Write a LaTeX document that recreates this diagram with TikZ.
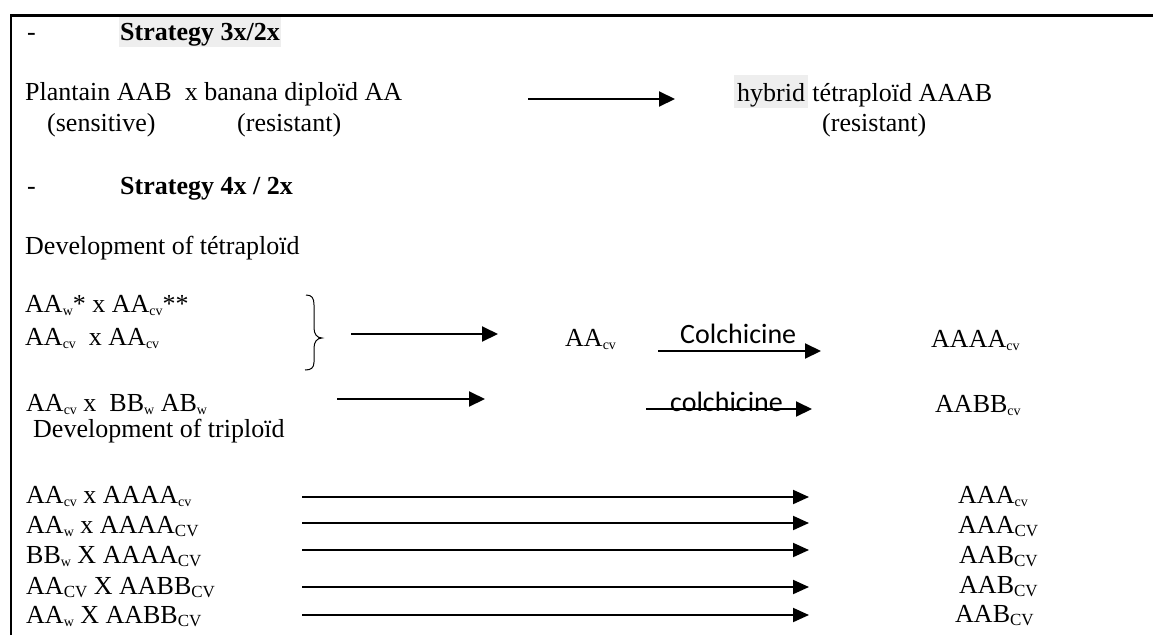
\documentclass[tikz,border=0pt]{standalone}
\usepackage{fontspec}
\setmainfont{Liberation Serif}
\newfontfamily\calibri{Carlito}
\usetikzlibrary{arrows.meta}
\definecolor{hl}{RGB}{238,238,238}
\newcommand{\sbl}[1]{\raisebox{-3.5pt}{\fontsize{14}{14}\selectfont #1}}
\newcommand{\sbu}[1]{\raisebox{-3.5pt}{\fontsize{17}{17}\selectfont #1}}
\begin{document}
\begin{tikzpicture}[x=1pt,y=-1pt,
  txt/.style={anchor=base west, inner sep=0pt, font=\fontsize{26}{30}\selectfont},
  cal/.style={anchor=base west, inner sep=0pt, font=\calibri\fontsize{28}{32}\selectfont},
  arr/.style={line width=2pt, -{Triangle[length=16pt,width=15pt]}},
  arrlong/.style={line width=2pt, -{Triangle[length=16pt,width=14pt]}},
  framel/.style={line width=2.4pt},
  bracel/.style={line width=1pt}]
\useasboundingbox (0,0) rectangle (1153,635);
% frame
\draw[framel] (11,635) -- (11,15.5) -- (1153,15.5);
% section 1
\node[txt] (d1) at (27,40) {-};
\node[txt, fill=hl, text height=23.5pt, text depth=7pt, inner xsep=1pt] (s1) at (119,40) {\textbf{Strategy 3x/2x}};
\node[txt] (p1) at (25,100) {Plantain AAB\ \ x banana diploïd AA};
\node[txt] (sen) at (47,131) {(sensitive)};
\node[txt] (res1) at (237,131) {(resistant)};
\coordinate (a1s) at (528,99);
\coordinate (a1e) at (675,99);
\draw[arr] (a1s) -- (a1e);
\node[txt, fill=hl, text height=26pt, text depth=7pt, inner xsep=3pt] (hyb) at (734,101) {hybrid};
\node[txt] (tet) at (hyb.base east) {\hspace{4pt}tétraploïd AAAB};
\node[txt] (res2) at (822,131) {(resistant)};
% section 2
\node[txt] (d2) at (27,194) {-};
\node[txt] (s2) at (120,194) {\textbf{Strategy 4x / 2x}};
\node[txt] (dev1) at (25,254) {Development of tétraploïd};
\node[txt] (r1) at (25,312) {AA\sbl{w}* x AA\sbl{cv}**};
\node[txt] (r2) at (25,345) {AA\sbl{cv}\ \ x AA\sbl{cv}};
\draw[bracel] (306,295) .. controls (312,295) and (314,298) .. (314,305) -- (314,328)
  .. controls (314,334) and (317,338) .. (322,338)
  .. controls (317,338) and (314,342) .. (314,348) -- (314,362)
  .. controls (314,368) and (311,370) .. (305,370);
\coordinate (a2s) at (351,334);
\coordinate (a2e) at (498,334);
\draw[arr] (a2s) -- (a2e);
\node[txt] (aacv) at (565,346) {AA\sbl{cv}};
\coordinate (c1s) at (658,351);
\coordinate (c1e) at (821,351);
\draw[arr] (c1s) -- (c1e);
\node[cal] (col1) at (680,343) {Colchicine};
\node[txt] (aaaa) at (931,347) {AAAA\sbl{cv}};
\node[txt] (r3) at (26,411) {AA\sbl{cv} x\ \ BB\sbl{w} AB\sbl{w}};
\coordinate (a3s) at (337,399);
\coordinate (a3e) at (485,399);
\draw[arr] (a3s) -- (a3e);
\node[cal] (col2) at (670,411) {colchicine};
\coordinate (c2s) at (646,409);
\coordinate (c2e) at (812,409);
\draw[arr] (c2s) -- (c2e);
\node[txt] (aabb) at (935,412) {AABB\sbl{cv}};
\node[txt] (dev2) at (33,437) {Development of triploïd};
% triploid rows
\node[txt] (t1) at (26,503) {AA\sbl{cv} x AAAA\sbl{cv}};
\node[txt] (t2) at (26,533) {AA\sbl{w} x AAAA\sbu{CV}};
\node[txt] (t3) at (26,563) {BB\sbl{w} X AAAA\sbu{CV}};
\node[txt] (t4) at (26,594) {AA\sbu{CV} X AABB\sbu{CV}};
\node[txt] (t5) at (26,623) {AA\sbl{w} X AABB\sbu{CV}};
\coordinate (b1s) at (302,497); \coordinate (b1e) at (809,497);
\coordinate (b2s) at (302,523); \coordinate (b2e) at (809,523);
\coordinate (b3s) at (302,550); \coordinate (b3e) at (809,550);
\coordinate (b4s) at (302,587); \coordinate (b4e) at (809,587);
\coordinate (b5s) at (302,615); \coordinate (b5e) at (809,615);
\draw[arrlong] (b1s) -- (b1e);
\draw[arrlong] (b2s) -- (b2e);
\draw[arrlong] (b3s) -- (b3e);
\draw[arrlong] (b4s) -- (b4e);
\draw[arrlong] (b5s) -- (b5e);
\node[txt] (o1) at (958,503) {AAA\sbl{cv}};
\node[txt] (o2) at (958,533) {AAA\sbu{CV}};
\node[txt] (o3) at (959,563) {AAB\sbu{CV}};
\node[txt] (o4) at (959,593) {AAB\sbu{CV}};
\node[txt] (o5) at (955,622) {AAB\sbu{CV}};
\end{tikzpicture}
\end{document}
